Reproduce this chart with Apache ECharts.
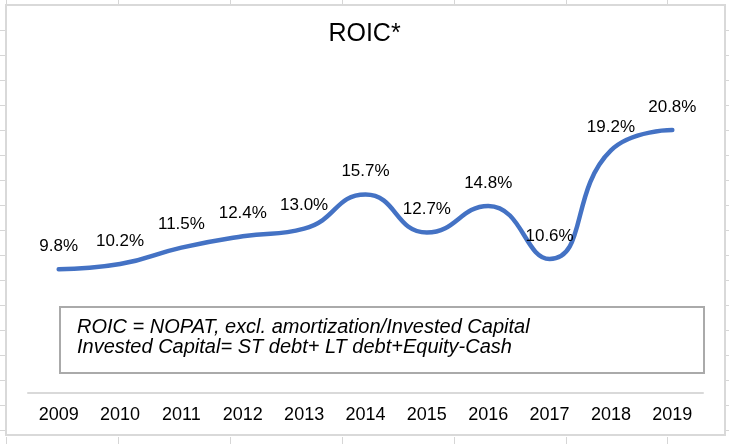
<!DOCTYPE html>
<html>
<head>
<meta charset="utf-8">
<script src="https://cdn.jsdelivr.net/npm/echarts@6/dist/echarts.min.js"></script>
<style>
html,body{margin:0;padding:0;background:#fff;}
#chart{width:729px;height:444px;}
</style>
</head>
<body>
<div id="chart"></div>
<script>
const years = ['2009','2010','2011','2012','2013','2014','2015','2016','2017','2018','2019'];
const roic = [9.8, 10.2, 11.5, 12.4, 13.0, 15.7, 12.7, 14.8, 10.6, 19.2, 20.8];
const titleText = 'ROIC*';
const noteLines = [
  'ROIC = NOPAT, excl. amortization/Invested Capital',
  'Invested Capital= ST debt+ LT debt+Equity-Cash'
];

const FONT = 'Arial, "Liberation Sans", Helvetica, sans-serif';
const chart = echarts.init(document.getElementById('chart'), null, {renderer: 'canvas'});

// spreadsheet cell borders visible outside the chart frame
const gridCol = '#d6d6d6';
const colX = [6, 118, 230, 342, 454, 566, 667];
const rowY = [];
for (let y = 30; y <= 430; y += 25) rowY.push(y);
const sheet = [];
colX.forEach(x => {
  sheet.push({type:'line', shape:{x1:x+0.5, y1:0, x2:x+0.5, y2:4}, style:{stroke:gridCol, lineWidth:1}, silent:true});
  sheet.push({type:'line', shape:{x1:x+0.5, y1:437, x2:x+0.5, y2:444}, style:{stroke:gridCol, lineWidth:1}, silent:true});
});
rowY.forEach(y => {
  sheet.push({type:'line', shape:{x1:0, y1:y+0.5, x2:5, y2:y+0.5}, style:{stroke:gridCol, lineWidth:1}, silent:true});
  sheet.push({type:'line', shape:{x1:726, y1:y+0.5, x2:729, y2:y+0.5}, style:{stroke:gridCol, lineWidth:1}, silent:true});
});

chart.setOption({
  animation: false,
  backgroundColor: '#fff',
  title: {
    text: titleText,
    left: 'center',
    top: 22,
    padding: 0,
    textStyle: {fontFamily: FONT, fontSize: 25, fontWeight: 'normal', color: '#000'}
  },
  grid: {left: 28, right: 26, top: 77, bottom: 51, containLabel: false},
  xAxis: {
    type: 'category',
    data: years,
    boundaryGap: true,
    axisLine: {show: true, lineStyle: {color: '#d9d9d9', width: 2}},
    axisTick: {show: false},
    axisLabel: {fontFamily: FONT, fontSize: 18, color: '#000', margin: 13}
  },
  yAxis: {
    type: 'value',
    min: 0,
    max: 25,
    show: false,
    splitLine: {show: false}
  },
  graphic: sheet.concat([
    {type:'rect', shape:{x:6, y:5, width:719, height:430}, style:{fill:'none', stroke:'#d9d9d9', lineWidth:2}, silent:true},
    {type:'rect', shape:{x:60, y:307, width:644, height:66}, style:{fill:'none', stroke:'#aaaaaa', lineWidth:2}, silent:true},
    {type:'text', x:77, y:317, style:{text: noteLines.join('\n'), font: 'italic 20px ' + FONT, fill:'#000', lineHeight: 20, verticalAlign:'top', align:'left'}, silent:true}
  ]),
  series: [{
    type: 'line',
    data: roic,
    smooth: 0.5,
    symbol: 'circle',
    symbolSize: 1,
    showSymbol: true,
    lineStyle: {color: '#4472C4', width: 4.5, cap: 'round'},
    itemStyle: {color: '#4472C4', opacity: 0},
    label: {
      show: true,
      position: 'top',
      distance: 14,
      fontFamily: FONT,
      fontSize: 17,
      color: '#000',
      opacity: 1,
      formatter: p => p.value.toFixed(1) + '%'
    }
  }]
});
</script>
</body>
</html>
